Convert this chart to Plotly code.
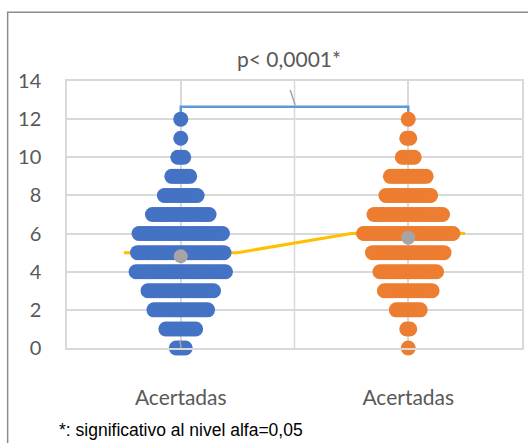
import plotly.graph_objects as go

# ---------------- data ----------------
categories = ["Acertadas", "Acertadas"]
cat_pos = [1, 2]
scores = list(range(13))                      # 0..12 correct answers
blue_counts = [4, 11, 19, 23, 31, 30, 29, 20, 12, 7, 3, 1, 1]
orange_counts = [1, 2, 9, 17, 20, 25, 31, 24, 16, 13, 5, 2, 1]
y_ticks = [0, 2, 4, 6, 8, 10, 12, 14]
p_text = "p< 0,0001*"
footnote = "*: significativo al nivel alfa=0,05"

# ---------------- styles ----------------
BLUE = "#4472C4"
ORANGE = "#ED7D31"
GRAY = "#A5A5A5"
YELLOW = "#FFC000"
BRACKET = "#5B9BD5"
GRID = "#D9D9D9"
TXT = "#595959"
DOT_STEP = 0.0131      # horizontal offset between stacked dots (data units)
DOT_SIZE = 15
MED_HALF = 0.25
BRACKET_Y = 12.65
FONT = "Lato"


def swarm(center, counts):
    xs, ys = [], []
    for s, n in zip(scores, counts):
        for i in range(n):
            xs.append(center + (i - (n - 1) / 2) * DOT_STEP)
            ys.append(s)
    return xs, ys


def mean(counts):
    return sum(s * n for s, n in zip(scores, counts)) / sum(counts)


def median(counts):
    vals = []
    for s, n in zip(scores, counts):
        vals += [s] * n
    vals.sort()
    m = len(vals)
    return vals[m // 2] if m % 2 else (vals[m // 2 - 1] + vals[m // 2]) / 2


fig = go.Figure()

# bracket
fig.add_trace(go.Scatter(
    x=[cat_pos[0], cat_pos[0], cat_pos[1], cat_pos[1]],
    y=[max(scores), BRACKET_Y, BRACKET_Y, max(scores)],
    mode="lines", line=dict(color=BRACKET, width=2.5),
    hoverinfo="skip", showlegend=False, cliponaxis=False))

# median line
m1, m2 = median(blue_counts), median(orange_counts)
fig.add_trace(go.Scatter(
    x=[cat_pos[0] - MED_HALF, cat_pos[0] + MED_HALF, cat_pos[1] - MED_HALF, cat_pos[1] + MED_HALF],
    y=[m1, m1, m2, m2],
    mode="lines", line=dict(color=YELLOW, width=3),
    hoverinfo="skip", showlegend=False))

for center, counts, col in [(cat_pos[0], blue_counts, BLUE), (cat_pos[1], orange_counts, ORANGE)]:
    xs, ys = swarm(center, counts)
    fig.add_trace(go.Scatter(
        x=xs, y=ys, mode="markers",
        marker=dict(color=col, size=DOT_SIZE, line=dict(width=0)),
        showlegend=False, cliponaxis=False))

# means
fig.add_trace(go.Scatter(
    x=cat_pos, y=[mean(blue_counts), mean(orange_counts)], mode="markers",
    marker=dict(color=GRAY, size=14, line=dict(width=0)),
    showlegend=False, cliponaxis=False))

# stray leader lines
fig.add_shape(type="line", x0=1.481, y0=13.53, x1=1.503, y1=12.74,
              line=dict(color=GRAY, width=1.5))
fig.add_shape(type="line", x0=0.997, y0=0.38, x1=1.009, y1=-0.72,
              line=dict(color=GRAY, width=1.5))

# vertical separator between categories
fig.add_shape(type="line", x0=1.5, x1=1.5, y0=0, y1=14,
              line=dict(color=GRID, width=1.5), layer="below")

# outer chart border
fig.add_shape(type="rect", xref="paper", yref="paper",
              x0=-0.1305, y0=-0.6, x1=1.3, y1=1.2573,
              line=dict(color="#8C8C8C", width=1.5), layer="below")

fig.add_annotation(x=1.475, y=1.086, xref="x", yref="paper", text=p_text,
                   showarrow=False, xanchor="center", yanchor="middle",
                   font=dict(family=FONT, size=21, color=TXT))
fig.add_annotation(x=-0.0226, y=-0.307, xref="paper", yref="paper", text=footnote,
                   showarrow=False, xanchor="left", yanchor="middle",
                   font=dict(family="Liberation Sans, Arial", size=17.5, color="#000000"))

fig.update_layout(
    width=528, height=443,
    margin=dict(l=67, r=4, t=81, b=95),
    paper_bgcolor="white", plot_bgcolor="white",
    xaxis=dict(range=[0.5, 2.5], tickvals=cat_pos, ticktext=categories,
               showgrid=True, gridcolor=GRID, gridwidth=1.5,
               zeroline=False, showline=True, mirror=True, linecolor=GRID, linewidth=1.5,
               ticks="", ticklabelstandoff=30,
               tickfont=dict(family=FONT, size=21, color=TXT)),
    yaxis=dict(range=[0, 14], tickvals=y_ticks, showgrid=True, gridcolor=GRID, gridwidth=1.5,
               zeroline=False, showline=True, mirror=True, linecolor=GRID, linewidth=1.5,
               ticks="", ticklabelstandoff=20,
               tickfont=dict(family=FONT, size=20, color=TXT)),
)

fig.write_html("out.html", config={"displayModeBar": False},
               post_script="document.body.style.margin='0';")
